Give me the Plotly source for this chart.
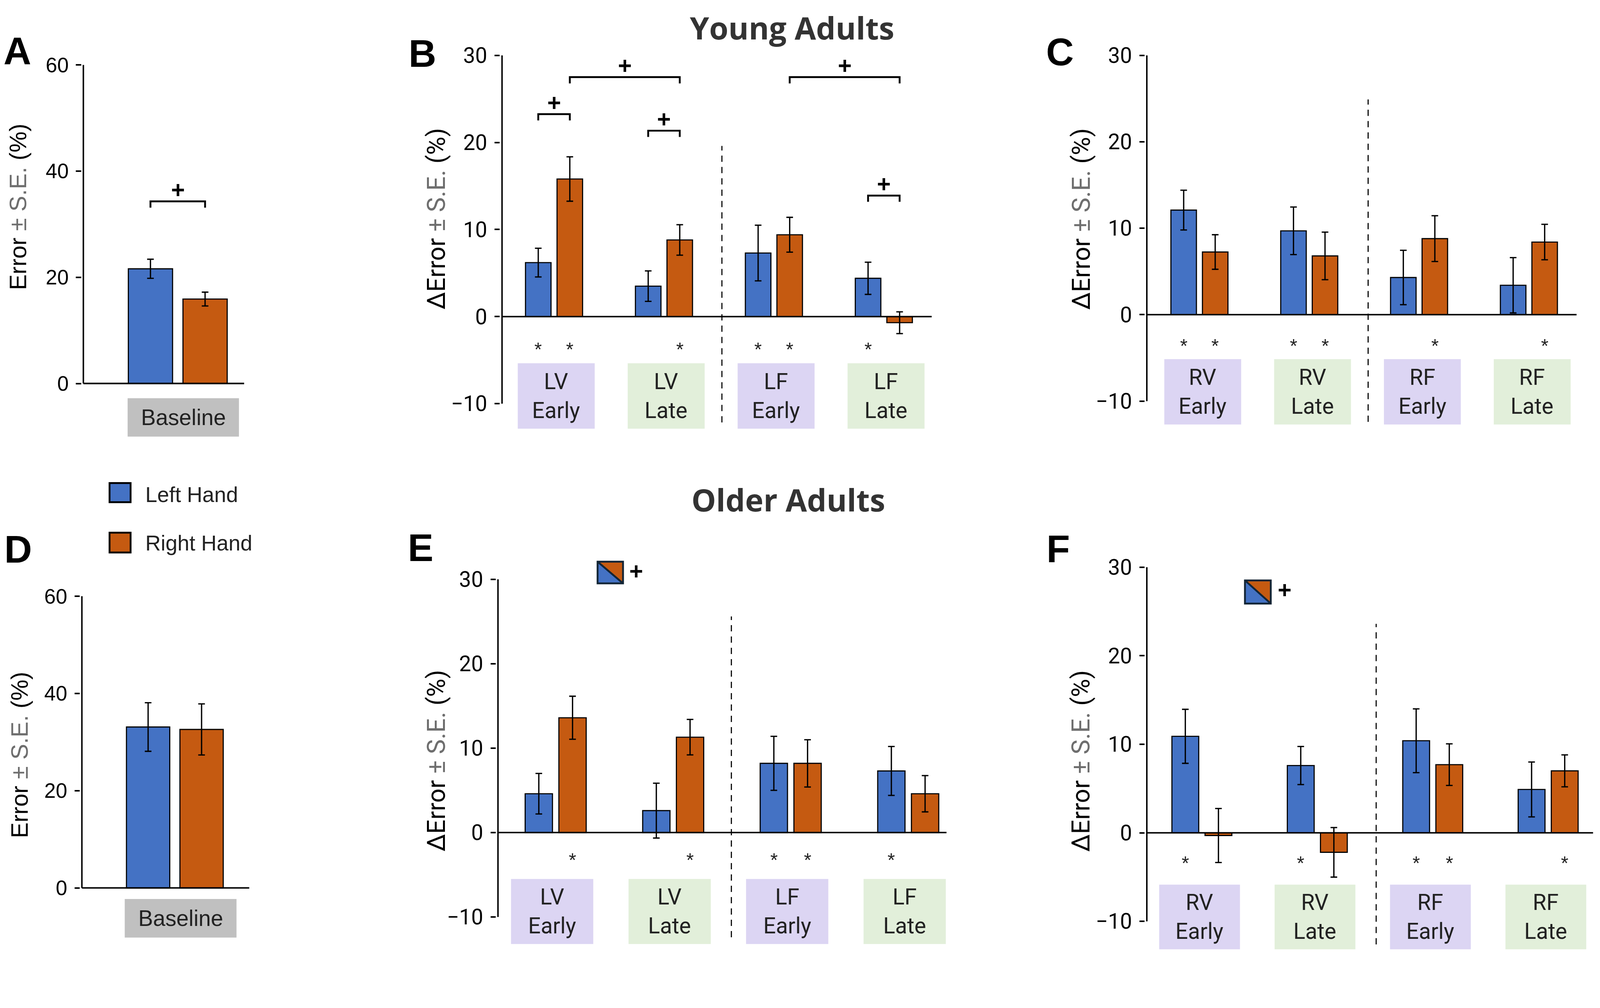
import plotly.graph_objects as go

# reference picture size, and the css size the page is shown at
W, H = 4328, 2580
SCALE = 4087 / 4328
CW, CH = 4087, 2436
BODY = 8  # default body margin of the html page

# ---------------- data ----------------
hands = ["Left Hand", "Right Hand"]
baseline_cat = ["Baseline"]

# baseline error (%), young (A) and older (D)
young_base = [21.6, 15.9]
young_base_se = [1.8, 1.3]
old_base = [33.1, 32.6]
old_base_se = [5.0, 5.25]

left_cats = ["LV Early", "LV Late", "LF Early", "LF Late"]
right_cats = ["RV Early", "RV Late", "RF Early", "RF Late"]

# young adults, left-hand conditions (B)
yl_lh = [6.2, 3.5, 7.3, 4.4]
yl_lh_se = [1.65, 1.75, 3.2, 1.85]
yl_rh = [15.8, 8.8, 9.4, -0.7]
yl_rh_se = [2.55, 1.75, 2.0, 1.25]
yl_star_lh = [1, 0, 1, 1]
yl_star_rh = [1, 1, 1, 0]

# young adults, right-hand conditions (C)
yr_lh = [12.1, 9.7, 4.3, 3.4]
yr_lh_se = [2.3, 2.75, 3.15, 3.2]
yr_rh = [7.25, 6.8, 8.8, 8.4]
yr_rh_se = [2.0, 2.75, 2.65, 2.05]
yr_star_lh = [1, 1, 0, 0]
yr_star_rh = [1, 1, 1, 1]

# older adults, left-hand conditions (E)
ol_lh = [4.6, 2.6, 8.2, 7.3]
ol_lh_se = [2.4, 3.25, 3.2, 2.9]
ol_rh = [13.6, 11.3, 8.2, 4.6]
ol_rh_se = [2.55, 2.1, 2.8, 2.15]
ol_star_lh = [0, 0, 1, 1]
ol_star_rh = [1, 1, 1, 0]

# older adults, right-hand conditions (F)
or_lh = [10.9, 7.6, 10.4, 4.9]
or_lh_se = [3.05, 2.15, 3.6, 3.1]
or_rh = [-0.3, -2.2, 7.7, 7.0]
or_rh_se = [3.05, 2.8, 2.35, 1.8]
or_star_lh = [1, 1, 1, 0]
or_star_rh = [0, 0, 1, 1]

# significant pairs: (category, hand) -> (category, hand)
young_base_pairs = [(0, 0, 0, 1)]
yl_pairs = [(0, 0, 0, 1), (1, 0, 1, 1), (0, 1, 1, 1), (2, 1, 3, 1), (3, 0, 3, 1)]

# ---------------- style ----------------
BLUE = "#4472C4"
ORANGE = "#C55A11"
PURPLE = "#DCD5F3"
GREEN = "#E2EFDA"
GREY_BOX = "#C0C0C0"
ARIAL = "Liberation Sans, Arial, sans-serif"
NARROW = "Roboto, Liberation Sans, sans-serif"
TITLE = "Open Sans, Noto Sans, sans-serif"

BARGAP = 0.426
BARGROUPGAP = 0.19
OFF = (1 - BARGAP) / 4  # centre offset of each bar in its group

fig = go.Figure()
layout = {}
shapes = []
annos = []


def s(v):
    return v * SCALE


def px(x):
    return (x * SCALE - BODY) / CW


def py(y):
    return 1 - (y * SCALE - BODY) / CH


def setup_axes(n, geom, tickvals, tickfont, ticksize):
    pl, pr, xl, xr, ya_px, ya, yb_px, yb, ymin, ymax = geom
    ppx = (pr - pl) / (xr - xl)
    pad = 5 / ppx
    ppy = (yb_px - ya_px) / (ya - yb)
    top = ya_px - (ymax - ya) * ppy
    bot = yb_px + (yb - ymin) * ppy
    layout["xaxis%d" % n] = dict(domain=[max(px(pl - 5), 0), min(px(pr), 1)], range=[xl - pad, xr],
                                 anchor="y%d" % n, visible=False, type="category")
    layout["yaxis%d" % n] = dict(domain=[max(py(bot), 0), min(py(top), 1)], range=[ymin, ymax],
                                 anchor="x%d" % n, tickvals=tickvals, ticks="outside",
                                 ticklen=s(14), tickwidth=s(4), tickcolor="black",
                                 showline=False, showgrid=False, zeroline=False,
                                 tickfont=dict(family=tickfont, size=s(ticksize), color="black"),
                                 ticklabelstandoff=int(round(s(8))))
    return xl, xr, ppy


def add_bars(n, cats, lh, lh_se, rh, rh_se):
    for vals, se, col, name in [(lh, lh_se, BLUE, hands[0]), (rh, rh_se, ORANGE, hands[1])]:
        fig.add_trace(go.Bar(
            x=cats, y=vals, name=name, showlegend=False,
            marker=dict(color=col, line=dict(color="black", width=s(3))),
            error_y=dict(type="data", array=se, color="black", thickness=s(3.5), width=s(9)),
            xaxis="x%d" % n, yaxis="y%d" % n))


def axis_lines(n, xl, xr, y0, y1):
    xa, ya = "x%d" % n, "y%d" % n
    shapes.append(dict(type="line", xref=xa, yref=ya, x0=xl, x1=xl, y0=y0, y1=y1,
                       line=dict(color="black", width=s(4))))
    shapes.append(dict(type="line", xref=xa, yref=ya, x0=xl, x1=xr, y0=0, y1=0,
                       line=dict(color="black", width=s(4))))


def cat_boxes(n, cats, colors, yb, off, width, font, size):
    xa, ya = "x%d" % n, "y%d" % n
    for i, c in enumerate(cats):
        shapes.append(dict(type="rect", xref=xa, yref=ya, layer="below",
                           x0=i + off - width / 2, x1=i + off + width / 2, y0=yb[0], y1=yb[1],
                           fillcolor=colors[i], line=dict(width=0)))
        annos.append(dict(xref=xa, yref=ya, x=i + off, y=(yb[0] + yb[1]) / 2,
                          xanchor="center", yanchor="middle",
                          text=c.replace(" ", "<br>"), showarrow=False,
                          font=dict(family=font, size=s(size), color="#222222")))


def stars(n, star_lh, star_rh, y):
    for i in range(len(star_lh)):
        for flag, sgn in [(star_lh[i], -1), (star_rh[i], 1)]:
            if flag:
                annos.append(dict(xref="x%d" % n, yref="y%d" % n, x=i + sgn * OFF, y=y,
                                  xanchor="center", yanchor="middle",
                                  text="*", showarrow=False, yshift=-s(13),
                                  font=dict(family=ARIAL, size=s(52), color="#222222")))


def brackets(n, pairs, heights, ppy):
    depth = 17 / ppy
    gap = 31 / ppy
    for (ci, hi, cj, hj), yv in zip(pairs, heights):
        x0 = ci + (2 * hi - 1) * OFF
        x1 = cj + (2 * hj - 1) * OFF
        shapes.append(dict(type="path", xref="x%d" % n, yref="y%d" % n,
                           path="M %f,%f L %f,%f L %f,%f L %f,%f" % (x0, yv - depth, x0, yv, x1, yv, x1, yv - depth),
                           line=dict(color="black", width=s(5))))
        annos.append(dict(xref="x%d" % n, yref="y%d" % n, x=(x0 + x1) / 2, y=yv + gap,
                          xanchor="center", yanchor="middle",
                          text="+", showarrow=False,
                          font=dict(family=ARIAL, size=s(64), color="black", weight="bold")))


def dashed(n, x, y0, y1):
    shapes.append(dict(type="line", xref="x%d" % n, yref="y%d" % n, x0=x, x1=x, y0=y0, y1=y1,
                       line=dict(color="black", width=s(3), dash="%dpx,%dpx" % (s(18), s(14)))))


def text(x, y, t, family, size, color="black", weight="normal", angle=0, xanchor="center"):
    annos.append(dict(xref="paper", yref="paper", x=px(x), y=py(y), text=t, textangle=angle,
                      xanchor=xanchor, yanchor="middle", showarrow=False,
                      font=dict(family=family, size=s(size), color=color, weight=weight)))


def ytitle(cx, cy, delta, font, size):
    head = "\u0394Error" if delta else "Error"
    text(cx, cy, head + "<span style='color:#6e6e6e'> \u00b1 S.E. </span>(%)", font, size, angle=-90)


def diag_square(l, r, t, b, plus_x, plus_y):
    L, R, T, B = px(l), px(r), py(t), py(b)
    shapes.append(dict(type="path", xref="paper", yref="paper",
                       path="M %f,%f L %f,%f L %f,%f Z" % (L, T, L, B, R, B),
                       fillcolor=BLUE, line=dict(width=0)))
    shapes.append(dict(type="path", xref="paper", yref="paper",
                       path="M %f,%f L %f,%f L %f,%f Z" % (L, T, R, T, R, B),
                       fillcolor=ORANGE, line=dict(width=0)))
    shapes.append(dict(type="rect", xref="paper", yref="paper", x0=L, x1=R, y0=B, y1=T,
                       line=dict(color="#132536", width=s(5))))
    shapes.append(dict(type="line", xref="paper", yref="paper", x0=L, x1=R, y0=T, y1=B,
                       line=dict(color="#132536", width=s(5))))
    text(plus_x, plus_y, "+", ARIAL, 64, weight="bold")


# ---------------- baseline panels (A, D) ----------------
for n, vals, se, geom, box_y, box_off, box_w, pairs, heights in [
    (1, young_base, young_base_se, (226, 662, -0.496, 0.349, 166, 60, 1033, 0, -10.6, 62),
     (-10.0, -2.77), 0.029, 0.585, young_base_pairs, [34.3]),
    (4, old_base, old_base_se, (222, 676, -0.499, 0.400, 1612, 60, 2406, 0, -10.8, 62),
     (-10.2, -2.27), 0.031, 0.60, [], []),
]:
    xl, xr, ppy = setup_axes(n, geom, [0, 20, 40, 60], ARIAL, 56)
    add_bars(n, baseline_cat, [vals[0]], [se[0]], [vals[1]], [se[1]])
    axis_lines(n, xl, xr, 0, 60)
    cat_boxes(n, baseline_cat, [GREY_BOX], box_y, box_off, box_w, ARIAL, 60)
    brackets(n, pairs, heights, ppy)

# ---------------- change panels (B, C, E, F) ----------------
box_cols = [PURPLE, GREEN, PURPLE, GREEN]
for n, cats, lh, lh_se, rh, rh_se, s_l, s_r, geom, box_y, box_off, dash, star_y in [
    (2, left_cats, yl_lh, yl_lh_se, yl_rh, yl_rh_se, yl_star_lh, yl_star_rh,
     (1361, 2526, -0.473, 3.436, 140, 30, 1088, -10, -13.5, 31),
     (-12.87, -5.36), 0.02, (1.527, -12.15, 19.6), -3.25),
    (3, right_cats, yr_lh, yr_lh_se, yr_rh, yr_rh_se, yr_star_lh, yr_star_rh,
     (3109, 4274, -0.479, 3.434, 140, 30, 1081, -10, -13.2, 31),
     (-12.7, -5.15), 0.03, (1.536, -12.4, 24.9), -3.1),
    (5, left_cats, ol_lh, ol_lh_se, ol_rh, ol_rh_se, ol_star_lh, ol_star_rh,
     (1350, 2566, -0.491, 3.326, 1566, 30, 2485, -10, -13.7, 33),
     (-13.2, -5.5), -0.03, (1.495, -12.4, 25.6), -2.7),
    (6, right_cats, or_lh, or_lh_se, or_rh, or_rh_se, or_star_lh, or_star_rh,
     (3109, 4319, -0.477, 3.39, 1533, 30, 2497, -10, -13.6, 31),
     (-13.15, -5.85), -0.02, (1.51, -12.6, 23.6), -2.9),
]:
    xl, xr, ppy = setup_axes(n, geom, [-10, 0, 10, 20, 30], NARROW, 58)
    add_bars(n, cats, lh, lh_se, rh, rh_se)
    axis_lines(n, xl, xr, -10, 30)
    cat_boxes(n, cats, box_cols, box_y, box_off, 0.70, NARROW, 60)
    dashed(n, *dash)
    stars(n, s_l, s_r, star_y)
    if n == 2:
        brackets(n, yl_pairs, [23.25, 21.35, 27.5, 27.5, 13.9], ppy)

# ---------------- labels ----------------
ytitle(49, 552, False, ARIAL, 64)
ytitle(53, 2044, False, ARIAL, 64)
ytitle(1183, 585, True, NARROW, 68)
ytitle(2931, 585, True, NARROW, 68)
ytitle(1183, 2060, True, NARROW, 68)
ytitle(2931, 2060, True, NARROW, 68)

for t, cx, cy in [("A", 47, 128), ("B", 1145, 135), ("C", 2873, 131),
                  ("D", 49, 1484), ("E", 1141, 1480), ("F", 2869, 1483)]:
    text(cx, cy, t, ARIAL, 104, weight="bold")

text(2147, 64, "Young Adults", TITLE, 84, color="#333333", weight="bold")
text(2137, 1348, "Older Adults", TITLE, 84, color="#333333", weight="bold")

# interaction symbols (E, F)
diag_square(1620, 1689, 1518, 1577, 1725, 1544)
diag_square(3375, 3445, 1569, 1632, 3482, 1595)

# legend
for (top, bot, ty), col, name in [((1304, 1356, 1335), BLUE, hands[0]),
                                  ((1439, 1493, 1467), ORANGE, hands[1])]:
    shapes.append(dict(type="rect", xref="paper", yref="paper", x0=px(297), x1=px(354),
                       y0=py(bot), y1=py(top), fillcolor=col, line=dict(color="black", width=s(5))))
    text(392, ty, name, ARIAL, 58, color="#222222", xanchor="left")

layout.update(
    width=CW, height=CH, margin=dict(l=0, r=0, t=0, b=0),
    paper_bgcolor="white", plot_bgcolor="white",
    barmode="group", bargap=BARGAP, bargroupgap=BARGROUPGAP,
    showlegend=False, shapes=shapes, annotations=annos,
    font=dict(family=ARIAL, color="black"),
)
fig.update_layout(**layout)

fig.write_html("out.html")
